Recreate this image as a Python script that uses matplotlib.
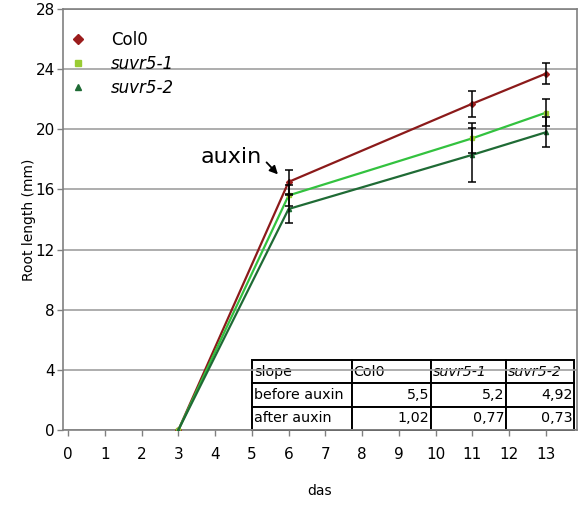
import matplotlib
matplotlib.use("Agg")
import matplotlib.pyplot as plt
from matplotlib.lines import Line2D

# ---- data ----
days = [3, 6, 11, 13]
col0 = [0.0, 16.5, 21.7, 23.7]
col0_err = [0.0, 0.8, 0.85, 0.7]
suvr51 = [0.0, 15.6, 19.4, 21.1]
suvr51_err = [0.0, 0.7, 1.0, 0.9]
suvr52 = [0.0, 14.7, 18.3, 19.8]
suvr52_err = [0.0, 0.9, 1.8, 1.0]

series_names = ["Col0", "suvr5-1", "suvr5-2"]
slope_before = [5.5, 5.2, 4.92]
slope_after = [1.02, 0.77, 0.73]
xticks = list(range(0, 14))
yticks = [0, 4, 8, 12, 16, 20, 24, 28]

line_colors = ["#8B1A1A", "#33C23F", "#1F6B35"]
marker_colors = ["#9B1C1C", "#99CC33", "#1F6B35"]
markers = ["D", "s", "^"]

fig = plt.figure(figsize=(5.79, 5.07), dpi=100)
ax = fig.add_axes([63/579, 1-430/507, (577-63)/579, (430-9)/507])

ys = [col0, suvr51, suvr52]
errs = [col0_err, suvr51_err, suvr52_err]
for y, e, lc, mc, m in zip(ys, errs, line_colors, marker_colors, markers):
    ax.plot(days, y, color=lc, lw=1.6, marker=m, markersize=3, mfc=mc, mec=mc, zorder=3)
for y, e in zip(ys, errs):
    d = [dd for dd, ee in zip(days, e) if ee > 0]
    yy = [v for v, ee in zip(y, e) if ee > 0]
    ee2 = [ee for ee in e if ee > 0]
    ax.errorbar(d, yy, yerr=ee2, fmt="none", ecolor="black", elinewidth=1.1,
                capsize=3, capthick=1.1, zorder=4)

ax.set_xlim(-0.14, 13.85)
ax.set_ylim(0, 28)
ax.set_xticks(xticks)
ax.set_yticks(yticks)
ax.tick_params(axis="both", labelsize=11, color="#808080", length=4, width=1)
ax.tick_params(axis="x", pad=8)
ax.tick_params(axis="y", pad=2)
ax.grid(axis="y", color="#a0a0a0", lw=1.2)
ax.set_axisbelow(True)
for s in ax.spines.values():
    s.set_color("#808080")
    s.set_linewidth(1.2)

ax.set_ylabel("Root length (mm)", fontsize=10, labelpad=-0.5)
ax.set_xlabel("das", fontsize=10, labelpad=16)

# legend
handles = [Line2D([], [], linestyle="none", marker=m, color=mc, markersize=5)
           for m, mc in zip(markers, marker_colors)]
leg = ax.legend(handles, series_names, loc="upper left", bbox_to_anchor=(-0.01, 0.975),
                frameon=False, fontsize=12, handletextpad=1.5, labelspacing=0.35,
                handlelength=1.0, borderaxespad=0.3)
for t in leg.get_texts()[1:]:
    t.set_style("italic")

# auxin annotation
ax.text(5.28, 18.15, "auxin", fontsize=16, ha="right", va="center")
ax.annotate("", xy=(5.71, 17.0), xytext=(5.4, 17.8),
            arrowprops=dict(arrowstyle="-|>", color="black", lw=1.3,
                            mutation_scale=12, shrinkA=0, shrinkB=0))

# table
fmt = lambda v: f"{v:g}".replace(".", ",")
cell_text = [["slope"] + series_names,
             ["before auxin"] + [fmt(v) for v in slope_before],
             ["after auxin"] + [fmt(v) for v in slope_after]]
colw = [100, 79, 75, 68]
tot = sum(colw)
tbl = ax.table(cellText=cell_text, bbox=[(252-63)/514, 0.0, (574-252)/514, 70/421],
               colWidths=[c/tot for c in colw])
tbl.auto_set_font_size(False)
tbl.set_fontsize(10.3)
tbl.set_zorder(0.2)
for (r, c), cell in tbl.get_celld().items():
    cell.set_edgecolor("black")
    cell.set_linewidth(1.4)
    cell.set_facecolor("white")
    cell.PAD = 0.02
    txt = cell.get_text()
    if r == 0 or c == 0:
        cell.set_text_props(ha="left")
        cell._loc = "left"
    else:
        cell.set_text_props(ha="right")
        cell._loc = "right"
    if r == 0 and c >= 2:
        txt.set_style("italic")

fig.savefig("out.png", dpi=100)
